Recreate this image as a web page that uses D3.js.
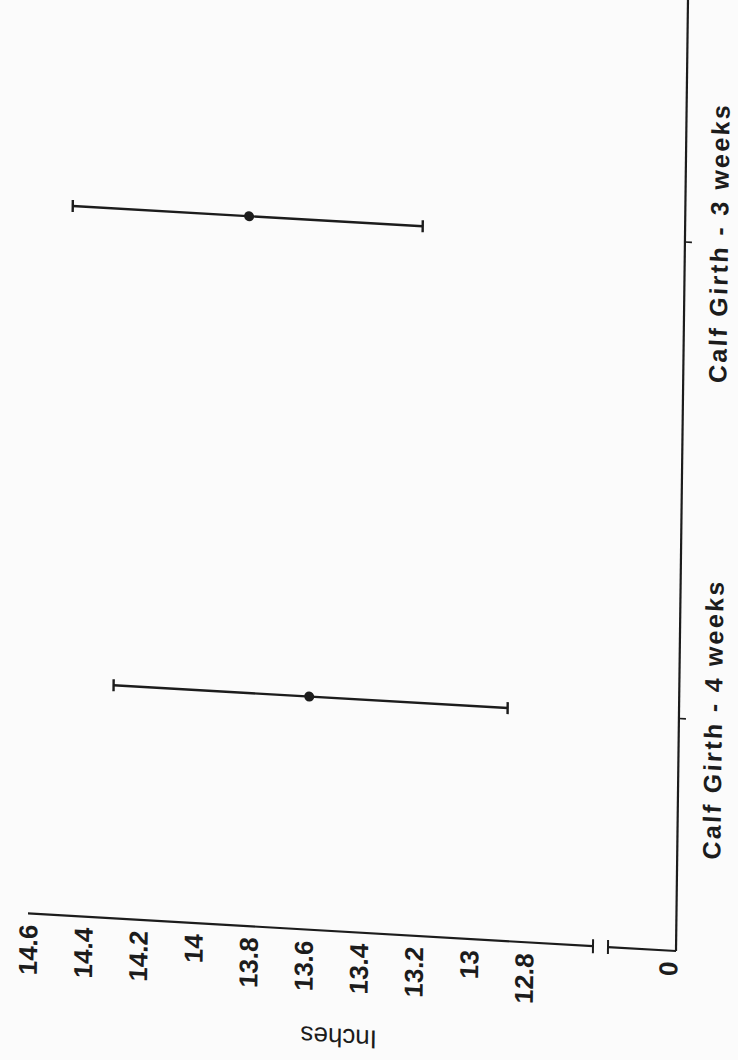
<!DOCTYPE html>
<html>
<head>
<meta charset="utf-8">
<script src="https://cdn.jsdelivr.net/npm/d3@7"></script>
<style>
  html, body { margin: 0; padding: 0; background: #fbfbfb; }
  svg { display: block; }
</style>
</head>
<body>
<svg id="chart" width="738" height="1060"></svg>
<script>
// ---- data ----
const categories = ["Calf Girth - 4 weeks", "Calf Girth - 3 weeks"];
const means = [13.59, 13.83];
const lower = [12.87, 13.20];
const upper = [14.30, 14.47];
const valueTicks = [14.6, 14.4, 14.2, 14, 13.8, 13.6, 13.4, 13.2, 13, 12.8, 0];
const valueTickLabels = ["14.6", "14.4", "14.2", "14", "13.8", "13.6", "13.4", "13.2", "13", "12.8", "0"];
const axisTitle = "Inches";

// ---- layout (page is rotated, scanned slightly askew) ----
const W = 738, H = 1060;
const axisY = 951;        // value axis line (local)
const catAxisX = 676;     // category axis line (local)
const breakA = 593, breakB = 608;
const ink = "#1c1c1c";

const svg = d3.select("#chart");
svg.append("rect").attr("width", W).attr("height", H).attr("fill", "#fbfbfb");

const g = svg.append("g")
  .attr("transform", `translate(${catAxisX},${axisY}) matrix(1,0.058,-0.0126,1,0,0) translate(${-catAxisX},${-axisY})`);

// value scale (broken axis: 14.6..12.8 then jump to 0)
const v = d3.scaleLinear().domain([14.6, 12.8, 0]).range([28, 524, 668]);
// category scale
const c = d3.scalePoint().domain(categories).range([axisY, 8.5]).padding(0.489);

// value axis
const vAxis = d3.axisBottom(v)
  .tickValues(valueTicks)
  .tickFormat((d, i) => valueTickLabels[i])
  .tickSize(0);
const vg = g.append("g").attr("transform", `translate(0,${axisY})`).call(vAxis);
vg.select(".domain").remove();
vg.selectAll("text")
  .attr("transform", "rotate(-90)")
  .attr("text-anchor", "end")
  .attr("x", -11)
  .attr("y", 0)
  .attr("dy", "0.35em")
  .attr("fill", ink)
  .style("font-family", "'Liberation Sans', Arial, sans-serif")
  .style("font-size", "26px")
  .style("font-weight", "bold");

// value axis line with break
g.append("line").attr("x1", v(14.6)).attr("x2", breakA).attr("y1", axisY).attr("y2", axisY)
  .attr("stroke", ink).attr("stroke-width", 2.2);
g.append("line").attr("x1", breakB).attr("x2", catAxisX).attr("y1", axisY).attr("y2", axisY)
  .attr("stroke", ink).attr("stroke-width", 2.2);
[breakA, breakB].forEach(x => {
  g.append("line").attr("x1", x).attr("x2", x).attr("y1", axisY - 7).attr("y2", axisY + 7)
    .attr("stroke", ink).attr("stroke-width", 2);
});

// category axis
const cAxis = d3.axisRight(c).tickSize(7).tickSizeOuter(0);
const cg = g.append("g").attr("transform", `translate(${catAxisX},0)`).call(cAxis);
cg.select(".domain").remove();
cg.selectAll(".tick line").attr("stroke", ink).attr("stroke-width", 1.6);
cg.selectAll("text")
  .attr("transform", "rotate(-90)")
  .attr("text-anchor", "middle")
  .attr("x", 0)
  .attr("y", 43)
  .attr("dy", 0)
  .attr("textLength", 278)
  .attr("lengthAdjust", "spacing")
  .attr("fill", ink)
  .style("font-family", "'Liberation Sans', Arial, sans-serif")
  .style("font-size", "25px")
  .style("font-weight", "bold");
g.append("line").attr("x1", catAxisX).attr("x2", catAxisX).attr("y1", axisY).attr("y2", -30)
  .attr("stroke", ink).attr("stroke-width", 2.2);

// axis title
g.append("text")
  .attr("transform", `translate(340,1048) rotate(180)`)
  .attr("text-anchor", "middle")
  .attr("fill", ink)
  .style("font-family", "'Liberation Sans', Arial, sans-serif")
  .style("font-size", "26px")
  .text(axisTitle);

// error bars
const rows = categories.map((k, i) => ({ k, m: means[i], lo: lower[i], hi: upper[i] }));
const eb = g.append("g").selectAll("g").data(rows).join("g");
eb.append("line")
  .attr("x1", d => v(d.hi)).attr("x2", d => v(d.lo))
  .attr("y1", d => c(d.k)).attr("y2", d => c(d.k))
  .attr("stroke", ink).attr("stroke-width", 2.4);
eb.append("line")
  .attr("x1", d => v(d.hi)).attr("x2", d => v(d.hi))
  .attr("y1", d => c(d.k) - 6).attr("y2", d => c(d.k) + 6)
  .attr("stroke", ink).attr("stroke-width", 2.4);
eb.append("line")
  .attr("x1", d => v(d.lo)).attr("x2", d => v(d.lo))
  .attr("y1", d => c(d.k) - 6).attr("y2", d => c(d.k) + 6)
  .attr("stroke", ink).attr("stroke-width", 2.4);
eb.append("circle")
  .attr("cx", d => v(d.m)).attr("cy", d => c(d.k)).attr("r", 5)
  .attr("fill", ink);
</script>
</body>
</html>
